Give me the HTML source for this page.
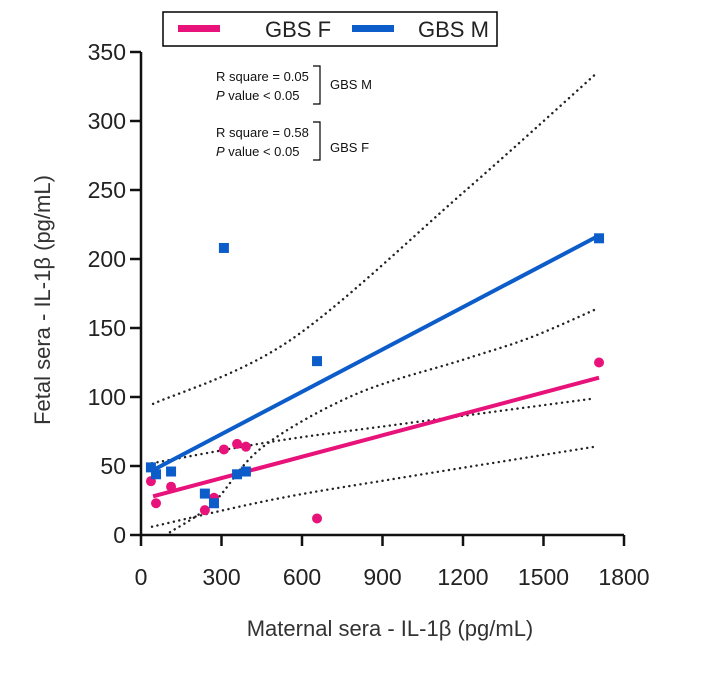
<!DOCTYPE html>
<html><head><meta charset="utf-8"><style>
body{margin:0;background:#fff;}
svg{display:block;font-family:"Liberation Sans",Arial,sans-serif;}
</style></head><body>
<svg id="chart" width="706" height="685">
  <g id="axes"></g>
  <g id="marks"></g>
  <g>
    <rect x="163" y="12" width="334" height="34" fill="#fff" stroke="#000" stroke-width="1.5"/>
    <rect x="178" y="25" width="42" height="7" fill="#e8137a"/>
    <text x="265" y="37" font-size="22" fill="#222">GBS F</text>
    <rect x="352" y="25" width="42" height="7" fill="#0c5dc9"/>
    <text x="418" y="37" font-size="22" fill="#222">GBS M</text>
  </g>
  <g font-family="'Liberation Sans',sans-serif" font-size="13" fill="#111">
    <text x="216" y="81">R square = 0.05</text>
    <text x="216" y="100"><tspan font-style="italic">P</tspan> value &lt; 0.05</text>
    <path d="M313,66 H320 V104 H313" fill="none" stroke="#000" stroke-width="1.2"/>
    <text x="330" y="89">GBS M</text>
    <text x="216" y="137">R square = 0.58</text>
    <text x="216" y="156"><tspan font-style="italic">P</tspan> value &lt; 0.05</text>
    <path d="M313,122 H320 V160 H313" fill="none" stroke="#000" stroke-width="1.2"/>
    <text x="330" y="152">GBS F</text>
  </g>
  <text x="390" y="636" text-anchor="middle" font-size="22" fill="#333">Maternal  sera - IL-1β (pg/mL)</text>
  <text transform="translate(50,300) rotate(-90)" text-anchor="middle" font-size="22" fill="#333">Fetal sera - IL-1β (pg/mL)</text>
</svg>
<script>
const xTicks=[0,300,600,900,1200,1500,1800];
const yTicks=[0,50,100,150,200,250,300,350];
const femaleX=[37,56,112,238,272,309,358,391,656,1707];
const femaleY=[39,23,35,18,27,62,66,64,12,125];
const maleX=[37,56,112,238,272,358,391,309,656,1707];
const maleY=[49,44,46,30,23,44,46,208,126,215];
const maleFitX=[45,1707];
const maleFitY=[47,217];
const femaleFitX=[45,1707];
const femaleFitY=[28,114];
const maleUpperX=[45,555,1200,1700];
const maleUpperY=[95,141,248,335];
const maleLowerX=[108,268,455,800,1200,1450,1700];
const maleLowerY=[2,23,64,102,127,143,164];
const femaleUpperX=[41,500,954,1692];
const femaleUpperY=[52,68,80,99];
const femaleLowerX=[41,500,954,1692];
const femaleLowerY=[6,26,41,64];

const X0=141,X1=624,Y0=535,Y1=52;
const sx=v=>X0+(v-0)/1800*(X1-X0);
const sy=v=>Y0-(v/350)*(Y0-Y1);
const NS="http://www.w3.org/2000/svg";
const axes=document.getElementById('axes'),marks=document.getElementById('marks');
function mk(tag,attrs,parent){const e=document.createElementNS(NS,tag);for(const k in attrs)e.setAttribute(k,attrs[k]);parent.appendChild(e);return e;}

let a=mk('path',{d:`M${X0},${Y1} V${Y0} H${X1}`,fill:'none',stroke:'#111','stroke-width':2.5},axes);


yTicks.forEach(t=>{
  const y=sy(t);
  const l=mk('line',{x1:X0-11,x2:X0,y1:y,y2:y,stroke:'#111','stroke-width':2.5},axes);
  
  
  const tx=mk('text',{x:X0-15,y:y+8,'text-anchor':'end','font-size':23,fill:'#222'},axes);
  tx.textContent=t;
  
  
});
xTicks.forEach(t=>{
  const x=sx(t);
  const l=mk('line',{x1:x,x2:x,y1:Y0,y2:Y0+11,stroke:'#111','stroke-width':2.5},axes);
  
  
  const tx=mk('text',{x:x,y:Y0+50,'text-anchor':'middle','font-size':23,fill:'#222'},axes);
  tx.textContent=t;
  
  
});
function smooth(xs,ys){
  const p=xs.map((v,i)=>[sx(v),sy(ys[i])]);
  let d=`M${p[0][0]},${p[0][1]}`;
  for(let i=0;i<p.length-1;i++){
    const p0=p[i-1]||p[i],p1=p[i],p2=p[i+1],p3=p[i+2]||p2;
    const c1=[p1[0]+(p2[0]-p0[0])/6,p1[1]+(p2[1]-p0[1])/6];
    const c2=[p2[0]-(p3[0]-p1[0])/6,p2[1]-(p3[1]-p1[1])/6];
    d+=` C${c1[0]},${c1[1]} ${c2[0]},${c2[1]} ${p2[0]},${p2[1]}`;
  }
  return d;
}
function curve(xs,ys,attrs,name){
  const p=mk('path',Object.assign({d:smooth(xs,ys),fill:'none'},attrs),marks);
  
  
}
const dot={stroke:'#222','stroke-width':2.4,'stroke-dasharray':'0.1 5.5','stroke-linecap':'round'};
curve(maleUpperX,maleUpperY,dot,'ci-upper-gbs-m');
curve(maleLowerX,maleLowerY,dot,'ci-lower-gbs-m');
curve(femaleUpperX,femaleUpperY,dot,'ci-upper-gbs-f');
curve(femaleLowerX,femaleLowerY,dot,'ci-lower-gbs-f');
curve(femaleFitX,femaleFitY,{stroke:'#e8137a','stroke-width':4},'fit-line-gbs-f');
curve(maleFitX,maleFitY,{stroke:'#0c5dc9','stroke-width':4},'fit-line-gbs-m');
femaleX.forEach((v,i)=>{
  const c=mk('circle',{cx:sx(v),cy:sy(femaleY[i]),r:5,fill:'#e8137a'},marks);
  
  
});
maleX.forEach((v,i)=>{
  const r=mk('rect',{x:sx(v)-5,y:sy(maleY[i])-5,width:10,height:10,fill:'#0c5dc9'},marks);
  
  
});
</script>
</body></html>
